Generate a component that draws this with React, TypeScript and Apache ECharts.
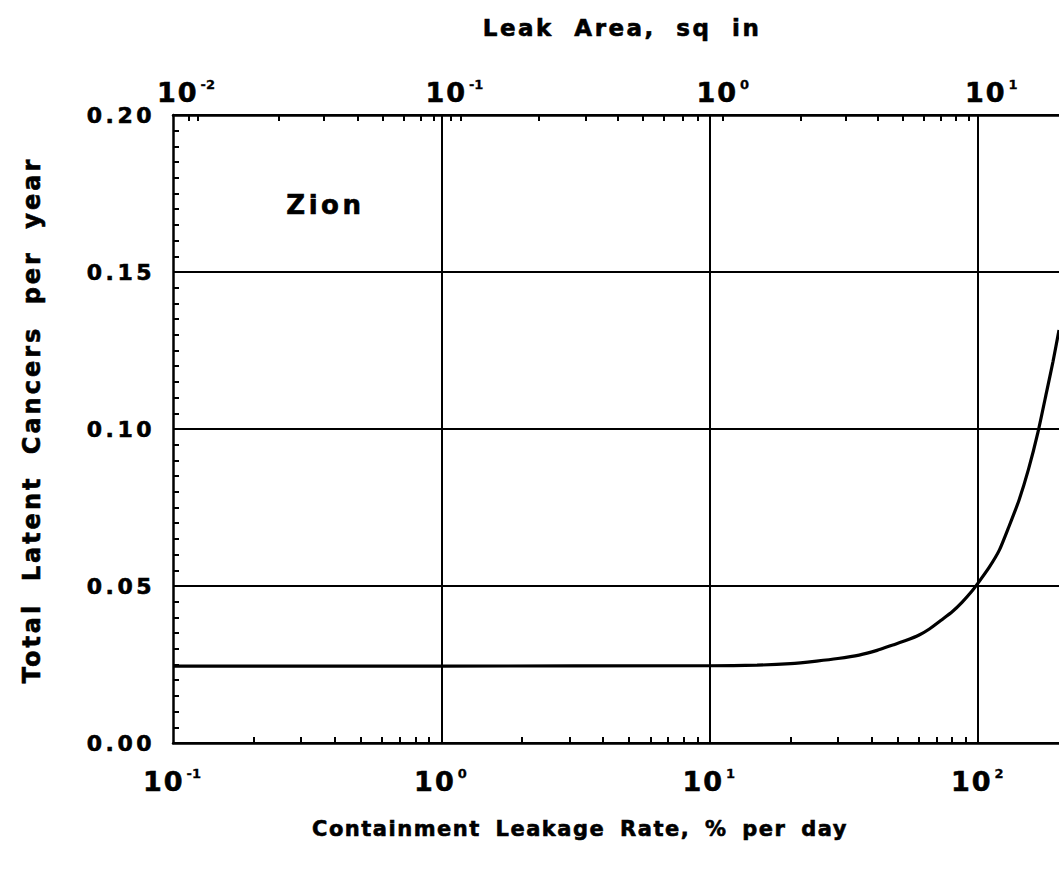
import React, { useEffect, useRef } from "react";
import * as echarts from "echarts";

// Containment leakage rate (% per day) and total latent cancers per year
const leakRate = [0.1, 1, 10, 15, 20, 25, 30, 36, 42, 48, 54, 60, 66, 73, 80, 87, 95, 100, 110, 120, 130, 142, 154, 167, 180, 190, 200];
const cancers = [0.0245, 0.0245, 0.0246, 0.0248, 0.0253, 0.0261, 0.0269, 0.028, 0.0295, 0.0312, 0.0327, 0.0343, 0.0364, 0.0392, 0.0418, 0.0448, 0.0485, 0.051, 0.056, 0.0615, 0.0688, 0.0774, 0.0872, 0.099, 0.112, 0.1215, 0.1315];

// axis labels / ticks
const bottomLabels = [0.1, 1, 10, 100];
const bottomTicks = [
  0.2, 0.3, 0.4, 0.5, 0.6, 0.7, 0.8, 0.9,
  2, 3, 4, 5, 6, 7, 8, 9,
  20, 30, 40, 50, 60, 70, 80, 90,
];
const topLabels = [0.01, 0.1, 1, 10];
const topTicks = [
  0.0114, 0.0124, 0.0247, 0.0363, 0.0486, 0.0603, 0.0722, 0.0836, 0.0934, 0.108, 0.118,
  0.23, 0.344, 0.454, 0.562, 0.673, 0.792, 0.902, 1.118,
  2.19, 3.22, 4.23, 5.25, 6.29, 7.28, 8.28, 9.25,
];
const gridX = [1, 10, 100];

const FONT = "'DejaVu Sans', 'Liberation Sans', sans-serif";
const HEAVY = 0.6;

// letter / word spacing applied to the rendered SVG texts
const textSpacing: Record<string, [number, number]> = {
  "Leak Area, sq in": [2.5, 10],
  "Containment Leakage Rate, % per day": [1.5, 6],
  "Total Latent Cancers per year": [3, 10],
  Zion: [3.5, 0],
  "10": [2, 0],
  "-2": [0, 0],
  "-1": [0, 0],
  "0": [0, 0],
  "1": [0, 0],
  "2": [0, 0],
};

const richLabel = {
  b: { fontFamily: FONT, fontWeight: "bold" as const, fontSize: 27, color: "#000", lineHeight: 28, verticalAlign: "bottom" as const, textBorderColor: "#000", textBorderWidth: HEAVY },
  s: { fontFamily: FONT, fontWeight: "bold" as const, fontSize: 13, color: "#000", lineHeight: 28, verticalAlign: "top" as const, padding: [0, 0, 0, 4], textBorderColor: "#000", textBorderWidth: 0.3 },
};

const powFormatter = (v: number) => {
  const e = Math.round(Math.log10(v));
  const sup = e < 0 ? "-" + Math.abs(e) : String(e);
  return `{b|10}{s|${sup}}`;
};

export default function App() {
  const ref = useRef<HTMLDivElement>(null);
  useEffect(() => {
    if (!ref.current) return;
    const chart = echarts.init(ref.current, null, { renderer: "svg" });
    const applySpacing = () => {
      const el = ref.current;
      if (!el) return;
      el.querySelectorAll("text").forEach((t) => {
        const key = (t.textContent || "").trim();
        const sp = textSpacing[key] || [3.5, 0];
        (t as SVGTextElement).style.letterSpacing = sp[0] + "px";
        (t as SVGTextElement).style.wordSpacing = sp[1] + "px";
      });
    };
    chart.on("finished", applySpacing);
    const axisLine = { show: true, onZero: false, lineStyle: { color: "#000", width: 2.5 } };
    const titleStyle = (text: string, size: number) => ({
      text,
      font: `bold ${size}px ${FONT}`,
      fill: "#000",
      stroke: "#000",
      lineWidth: HEAVY,
      align: "center",
      verticalAlign: "middle",
    });
    chart.setOption({
      animation: false,
      backgroundColor: "#fff",
      grid: { left: 173, top: 115, right: 0, bottom: 132, containLabel: false },
      xAxis: [
        {
          type: "log",
          logBase: 10,
          position: "bottom",
          min: 0.1,
          max: 200,
          axisLine,
          axisTick: { show: true, inside: true, length: 6, customValues: bottomTicks, lineStyle: { color: "#000", width: 2 } },
          axisLabel: { show: true, customValues: bottomLabels, margin: 24, formatter: powFormatter, rich: richLabel },
          splitLine: { show: false },
          minorTick: { show: false },
        },
        {
          type: "log",
          logBase: 10,
          position: "top",
          min: 0.01,
          max: 20,
          axisLine,
          axisTick: { show: true, inside: true, length: 6, customValues: topTicks, lineStyle: { color: "#000", width: 2 } },
          axisLabel: { show: true, customValues: topLabels, margin: 9, padding: [0, 0, 0, 28], formatter: powFormatter, rich: richLabel },
          splitLine: { show: false },
          minorTick: { show: false },
        },
      ],
      yAxis: {
        type: "value",
        min: 0,
        max: 0.2,
        interval: 0.05,
        axisLine,
        axisTick: { show: false, inside: true },
        minorTick: { show: true, splitNumber: 10, length: 6, lineStyle: { color: "#000", width: 2 } },
        axisLabel: {
          margin: 18,
          formatter: (v: number) => v.toFixed(2),
          fontFamily: FONT,
          fontWeight: "bold",
          fontSize: 22,
          color: "#000",
          textBorderColor: "#000",
          textBorderWidth: HEAVY,
        },
        splitLine: { show: true, lineStyle: { color: "#000", width: 2 } },
      },
      graphic: [
        {
          type: "text",
          left: 286,
          top: 192,
          style: { text: "Zion", font: `bold 26px ${FONT}`, fill: "#000", stroke: "#000", lineWidth: HEAVY },
        },
        { type: "text", x: 622, y: 28, style: titleStyle("Leak Area, sq in", 23) },
        { type: "text", x: 580, y: 829, style: titleStyle("Containment Leakage Rate, % per day", 21) },
        { type: "text", x: 32, y: 420, rotation: Math.PI / 2, style: titleStyle("Total Latent Cancers per year", 24) },
      ],
      series: [
        {
          type: "line",
          xAxisIndex: 0,
          yAxisIndex: 0,
          data: leakRate.map((x, i) => [x, cancers[i]]),
          smooth: 0.2,
          showSymbol: false,
          symbol: "none",
          clip: true,
          lineStyle: { color: "#000", width: 3.2 },
          markLine: {
            silent: true,
            symbol: "none",
            label: { show: false },
            lineStyle: { color: "#000", width: 2, type: "solid" },
            data: gridX.map((v) => ({ xAxis: v })),
          },
        },
      ],
    });
    applySpacing();
    const raf = requestAnimationFrame(applySpacing);
    return () => {
      cancelAnimationFrame(raf);
      chart.dispose();
    };
  }, []);
  return <div ref={ref} style={{ position: "absolute", left: 0, top: 0, width: 1059, height: 875 }} />;
}
